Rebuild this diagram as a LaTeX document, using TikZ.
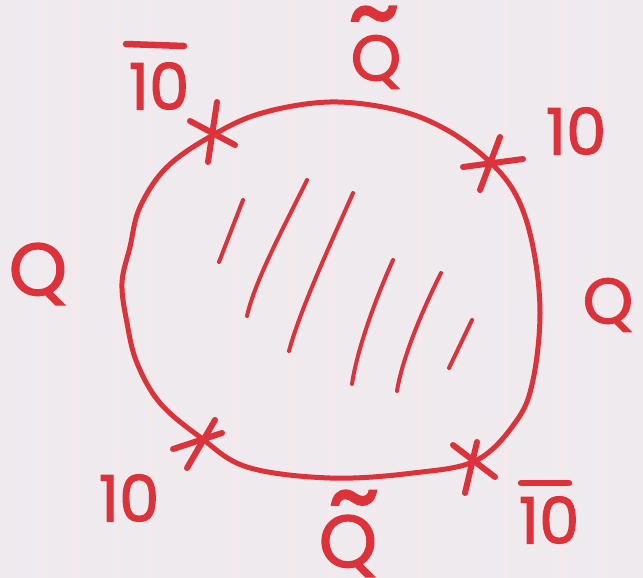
\documentclass[tikz,border=0pt]{standalone}
\usepackage{fontspec}
\setmainfont{Poppins}
\newfontfamily\handfont{Poppins}[FakeBold=1.8]
\definecolor{ink}{RGB}{222,50,58}
\definecolor{paper}{RGB}{238,234,238}
\begin{document}
\begin{tikzpicture}[x=1pt,y=-1pt,
  lbl/.style={text=ink, font=\fontsize{64}{64}\handfont, inner sep=0pt, anchor=center},
  bigq/.style={text=ink, font=\fontsize{74}{74}\handfont, inner sep=0pt, anchor=center},
  tld/.style={text=ink, font=\fontsize{100}{100}\handfont, inner sep=0pt, anchor=center},
  loopline/.style={draw=ink, line width=5pt, line cap=round, line join=round},
  xstroke/.style={draw=ink, line width=6pt, line cap=round},
  barline/.style={draw=ink, line width=6.5pt, line cap=round},
  hatch/.style={draw=ink, line width=4pt, line cap=round}]
\fill[paper] (0,0) rectangle (643,578);
\useasboundingbox (0,0) rectangle (643,578);
% faint paper lines
\foreach \xx in {40,75,118,150,235,290,330,420,505,560,600}
  \draw[ink!12, line width=1.2pt] (\xx,0) -- (\xx,578);
% closed loop
\draw[loopline] plot[smooth cycle, tension=0.6] coordinates {
 (213,135) (262,113) (330,102) (397,110) (447,130) (490,162) (517,197)
 (533,247) (540,313) (533,380) (517,420) (477,460) (413,473) (330,478)
 (247,467) (200,437) (160,403) (137,363) (127,323) (122,283) (130,247)
 (140,207) (167,167)};
% cross marks
\coordinate (xtl) at (213,133);
\coordinate (xtr) at (490,162);
\coordinate (xbl) at (200,440);
\coordinate (xbr) at (472,460);
\draw[xstroke] (217,102) -- (208,162);
\draw[xstroke] (190,121) -- (235,145);
\draw[xstroke] (500,137) -- (480,190);
\draw[xstroke] (463,167) -- (523,159);
\draw[xstroke] (215,420) -- (187,468);
\draw[xstroke] (173,449) -- (222,433);
\draw[xstroke] (477,442) -- (465,493);
\draw[xstroke] (453,445) -- (495,477);
% hatching
\draw[hatch] (243,200) -- (219,262);
\draw[hatch] (307,180) .. controls (285,225) and (255,280) .. (247,316);
\draw[hatch] (353,193) .. controls (330,245) and (300,310) .. (289,351);
\draw[hatch] (393,260) .. controls (375,300) and (357,350) .. (352,384);
\draw[hatch] (441,273) .. controls (420,315) and (402,360) .. (397,391);
\draw[hatch] (472,320) -- (449,368);
% labels
\node[lbl] (tl) at (159,86) {10};
\draw[barline] (126,44) -- (184,46);
\node[lbl] (tq) at (376,62) {Q};
\node[tld] (tqt) at (374,26) {\char`\~};
\node[lbl] (tr) at (576,131) {10};
\node[bigq] (lq) at (38,274) {Q};
\node[lbl] (rq) at (608,305) {Q};
\node[lbl] (bl) at (129,498) {10};
\node[bigq] (bq) at (348,546) {Q};
\node[tld] (bqt) at (354,510) {\char`\~};
\node[lbl] (br) at (549,520) {10};
\draw[barline] (521,483) -- (569,483);
\end{tikzpicture}
\end{document}
